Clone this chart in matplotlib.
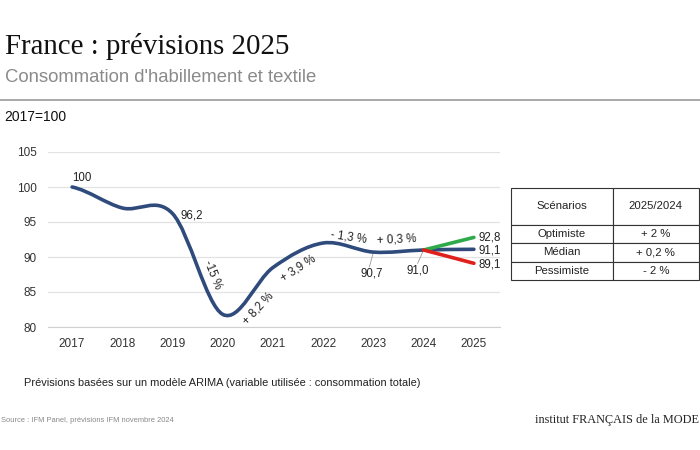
import matplotlib
matplotlib.use("Agg")
import matplotlib.pyplot as plt
from matplotlib.path import Path
from matplotlib.patches import PathPatch

# Data (index 2017 = 100)
years = [2017, 2018, 2019, 2020, 2021, 2022, 2023, 2024, 2025]
index_median = [100, 97.0, 96.2, 81.8, 88.5, 92.0, 90.7, 91.0, 91.1]
optimiste = [91.0, 92.8]
pessimiste = [91.0, 89.1]
scen_years = [2024, 2025]

growth_labels = ["-15 %", "+ 8,2 %", "+ 3,9 %", "- 1,3 %", "+ 0,3 %"]
table_rows = [["Optimiste", "+ 2 %"], ["Médian", "+ 0,2 %"], ["Pessimiste", "- 2 %"]]
table_header = ["Scénarios", "2025/2024"]

blue = "#2f4b7c"
green = "#2eaa4a"
red = "#e0201b"
sans = ["Liberation Sans", "DejaVu Sans"]

fig = plt.figure(figsize=(7, 4.5), dpi=100)
fig.patch.set_facecolor("white")


def px(x, y):
    return x / 700, 1 - y / 450


# header
fig.text(*px(5, 47), "France : prévisions 2025", family="Liberation Serif",
         fontsize=20.8, va="center", ha="left", color="#111111")
fig.text(*px(5, 78), "Consommation d'habillement et textile", family=sans,
         fontsize=13.3, va="center", ha="left", color="#8a8a8a")
fig.add_artist(plt.Line2D([0, 1], [1 - 100 / 450] * 2, color="#9a9a9a", lw=1.2,
                          transform=fig.transFigure))
fig.text(*px(4, 117), "2017=100", family=sans, fontsize=10, va="center", color="#111111")

ax = fig.add_axes([48 / 700, 1 - 327 / 450, 452 / 700, 175 / 450])
ax.set_xlim(2016.52, 2025.52)
ax.set_ylim(80, 105)
ax.set_yticks([80, 85, 90, 95, 100, 105])
ax.set_xticks(years)
ax.grid(axis="y", color="#e2e2e2", lw=0.9)
ax.set_axisbelow(True)
for s in ["top", "right", "left"]:
    ax.spines[s].set_visible(False)
ax.spines["bottom"].set_color("#d0d0d0")
ax.tick_params(length=0, labelsize=8.5, colors="#333333", pad=8)
for lab in ax.get_xticklabels() + ax.get_yticklabels():
    lab.set_family(sans)

# smooth main line (Catmull-Rom as cubic Bezier)
verts = [(years[0], index_median[0])]
codes = [Path.MOVETO]
n = len(years)
for i in range(n - 1):
    y0 = index_median[max(i - 1, 0)]
    y1 = index_median[i]
    y2 = index_median[i + 1]
    y3 = index_median[min(i + 2, n - 1)]
    x1, x2 = years[i], years[i + 1]
    verts += [(x1 + (x2 - x1) / 3, y1 + (y2 - y0) / 6),
              (x2 - (x2 - x1) / 3, y2 - (y3 - y1) / 6),
              (x2, y2)]
    codes += [Path.CURVE4] * 3
ax.add_patch(PathPatch(Path(verts, codes), fill=False, edgecolor=blue, lw=2.6,
                       capstyle="round", zorder=3))
ax.plot(scen_years, optimiste, color=green, lw=2.6, solid_capstyle="round", zorder=4)
ax.plot(scen_years, pessimiste, color=red, lw=2.6, solid_capstyle="round", zorder=5)

# value labels
lab_kw = dict(family=sans, fontsize=8.3, color="#222222")
ax.text(2017, 100.4, "100", ha="left", va="bottom", **lab_kw)
ax.text(2019.15, 95.9, "96,2", ha="left", va="center", **lab_kw)
ax.text(2022.96, 87.6, "90,7", ha="center", va="center", **lab_kw)
ax.plot([2023, 2022.92], [index_median[6], 88.6], color="#999999", lw=0.6)
ax.text(2023.89, 88.1, "91,0", ha="center", va="center", **lab_kw)
ax.plot([2024, 2023.88], [index_median[7], 89.1], color="#999999", lw=0.6)
ax.text(2025.1, optimiste[1], "92,8", ha="left", va="center", **lab_kw)
ax.text(2025.1, index_median[8] - 0.2, "91,1", ha="left", va="center", **lab_kw)
ax.text(2025.1, pessimiste[1] - 0.2, "89,1", ha="left", va="center", **lab_kw)

# growth labels
pos = [(2019.79, 87.4, -68), (2020.7, 82.7, 47), (2021.5, 88.3, 33),
       (2022.51, 92.8, -8), (2023.47, 92.5, 3)]
for (x, y, r), t in zip(pos, growth_labels):
    ax.text(x, y, t, ha="center", va="center", rotation=r,
            rotation_mode="anchor", **lab_kw)

# scenario table
tax = fig.add_axes([511 / 700, 1 - 280 / 450, 188 / 700, 92 / 450])
tax.axis("off")
tbl = tax.table(cellText=table_rows, colLabels=table_header, cellLoc="center",
                bbox=[0, 0, 1, 1])
tbl.auto_set_font_size(False)
for (r, c), cell in tbl.get_celld().items():
    cell.set_height(0.4 if r == 0 else 0.2)
    cell.set_width(0.54 if c == 0 else 0.46)
    cell.set_edgecolor("#333333")
    cell.set_linewidth(0.8)
    cell.get_text().set_fontsize(8.2)
    cell.get_text().set_family(sans)
    cell.get_text().set_color("#222222")

# footer
fig.text(*px(24, 383), "Prévisions basées sur un modèle ARIMA (variable utilisée : consommation totale)",
         family=sans, fontsize=7.95, va="center", color="#222222")
fig.text(*px(1, 420), "Source : IFM Panel, prévisions IFM novembre 2024",
         family=sans, fontsize=5.4, va="center", color="#888888")
fig.text(*px(699, 420), "institut FRANÇAIS de la MODE", family="Liberation Serif",
         fontsize=8.8, va="center", ha="right", color="#222222")

fig.savefig("out.png", dpi=100)
